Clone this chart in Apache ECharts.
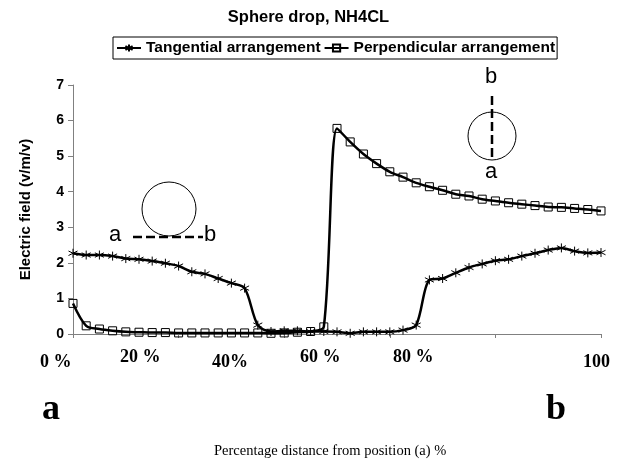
<!DOCTYPE html>
<html>
<head>
<meta charset="utf-8">
<script src="https://cdn.jsdelivr.net/npm/echarts@6/dist/echarts.min.js"></script>
<style>html,body{margin:0;padding:0;background:#fff}#c{width:617px;height:467px}</style>
</head>
<body>
<div id="c"></div>
<script>
// Data (x = percentage distance from position a, step 2.5 %)
var xPositions = [0,2.5,5,7.5,10,12.5,15,17.5,20,22.5,25,27.5,30,32.5,35,37.5,40,42.5,45,47.5,50,52.5,55,57.5,60,62.5,65,67.5,70,72.5,75,77.5,80,82.5,85,87.5,90,92.5,95,97.5,100];
var tangential = [2.27,2.22,2.22,2.19,2.12,2.10,2.05,1.99,1.91,1.75,1.69,1.56,1.43,1.29,0.25,0.07,0.09,0.09,0.07,0.07,0.06,0.02,0.06,0.06,0.06,0.11,0.25,1.52,1.56,1.72,1.87,1.97,2.06,2.10,2.19,2.27,2.36,2.42,2.33,2.28,2.29];
var perpendicular = [0.86,0.23,0.14,0.09,0.06,0.05,0.04,0.04,0.03,0.03,0.03,0.03,0.03,0.03,0.03,0.02,0.03,0.05,0.07,0.20,5.78,5.40,5.06,4.79,4.56,4.41,4.25,4.14,4.04,3.93,3.88,3.79,3.74,3.69,3.65,3.61,3.57,3.56,3.53,3.50,3.46];
var seriesNames = ['Tangential arrangement','Perpendicular arrangement'];
var xTickLabels = ['0 %','20 %','40%','60 %','80 %','100'];
var yTicks = {min:0, max:7, interval:1};

function pairs(ys){ return xPositions.map(function(x,i){ return [x, ys[i]]; }); }

var chart = echarts.init(document.getElementById('c'), null, {renderer:'canvas'});
var star = 'path://M5,0L5,10M0.7,2.5L9.3,7.5M9.3,2.5L0.7,7.5';
var serif = '"Liberation Serif","Times New Roman",serif';
var sans = '"Liberation Sans",Arial,sans-serif';

var xLabelPos = [[40,362],[120,357],[212,362],[300,357],[393,357],[583,362]];
var graphics = [];
xTickLabels.forEach(function(t,i){
  graphics.push({type:'text', left:xLabelPos[i][0], top:xLabelPos[i][1]-9,
    style:{text:t, font:'bold 18px '+serif, fill:'#000'}});
});
graphics.push({type:'text', left:42, top:392, style:{text:'a', font:'bold 36px '+serif, fill:'#000'}});
graphics.push({type:'text', left:546, top:392, style:{text:'b', font:'bold 36px '+serif, fill:'#000'}});
graphics.push({type:'text', left:214, top:444, style:{text:'Percentage distance from position (a) %', font:'14.5px '+serif, fill:'#000'}});
// left sketch
graphics.push({type:'circle', shape:{cx:169, cy:209, r:27}, style:{fill:'none', stroke:'#000', lineWidth:1}});
graphics.push({type:'line', shape:{x1:133, y1:237, x2:203, y2:237}, style:{stroke:'#000', lineWidth:2.5, lineDash:[9,4]}});
graphics.push({type:'text', left:109, top:224, style:{text:'a', font:'22px '+sans, fill:'#000'}});
graphics.push({type:'text', left:204, top:224, style:{text:'b', font:'22px '+sans, fill:'#000'}});
// right sketch
graphics.push({type:'circle', shape:{cx:492, cy:136, r:24}, style:{fill:'none', stroke:'#000', lineWidth:1}});
graphics.push({type:'line', shape:{x1:492, y1:96, x2:492, y2:160}, style:{stroke:'#000', lineWidth:2.5, lineDash:[9,4]}});
graphics.push({type:'text', left:485, top:66, style:{text:'b', font:'22px '+sans, fill:'#000'}});
graphics.push({type:'text', left:485, top:161, style:{text:'a', font:'22px '+sans, fill:'#000'}});

chart.setOption({
  animation:false,
  backgroundColor:'#fff',
  title:{text:'Sphere drop, NH4CL', left:'center', top:4, textStyle:{fontFamily:sans, fontWeight:'bold', fontSize:16.5, color:'#000'}},
  legend:{top:37, left:113, orient:'horizontal', borderColor:'#000', borderWidth:1, padding:[3,2,3,3], itemGap:3, itemWidth:24, itemHeight:9,
    textStyle:{fontFamily:sans, fontWeight:'bold', fontSize:15.5, color:'#000'}, data:seriesNames},
  grid:{left:73, right:16, top:85, bottom:133, containLabel:false},
  xAxis:{type:'value', min:0, max:100, interval:20,
    axisLine:{lineStyle:{color:'#808080', width:1}},
    axisTick:{show:true, length:4, lineStyle:{color:'#808080'}},
    axisLabel:{show:false}, splitLine:{show:false}},
  yAxis:{type:'value', min:yTicks.min, max:yTicks.max, interval:yTicks.interval,
    name:'Electric field (v/m/v)', nameLocation:'middle', nameGap:40,
    nameTextStyle:{fontFamily:sans, fontWeight:'bold', fontSize:15, color:'#000'},
    axisLine:{show:true, lineStyle:{color:'#808080', width:1}},
    axisTick:{show:true, length:5, lineStyle:{color:'#808080'}},
    axisLabel:{fontFamily:sans, fontWeight:'bold', fontSize:14, color:'#000', margin:9},
    splitLine:{show:false}},
  series:[
    {name:seriesNames[0], type:'line', data:pairs(tangential), smooth:0.3,
     symbol:star, symbolSize:9, showAllSymbol:true,
     itemStyle:{color:'rgba(0,0,0,0)', borderColor:'#000', borderWidth:1},
     lineStyle:{color:'#000', width:2.5}},
    {name:seriesNames[1], type:'line', data:pairs(perpendicular), smooth:0.3,
     symbol:'rect', symbolSize:8, showAllSymbol:true,
     itemStyle:{color:'rgba(0,0,0,0)', borderColor:'#000', borderWidth:1},
     lineStyle:{color:'#000', width:2.5}}
  ],
  graphic:graphics
});
</script>
</body>
</html>
